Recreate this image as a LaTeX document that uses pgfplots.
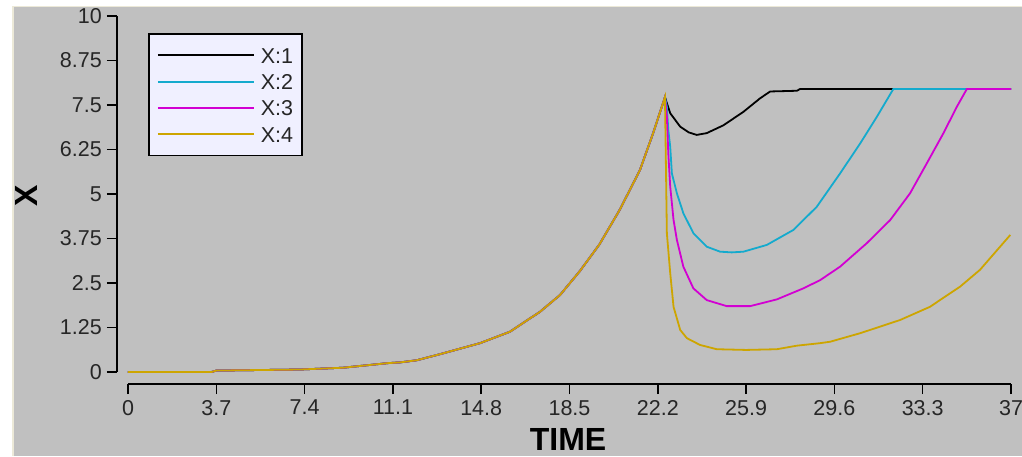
\documentclass[border=0pt]{standalone}
\usepackage{fontspec}
\setmainfont{Liberation Sans}
\usepackage{pgfplots}
\pgfplotsset{compat=1.18}
\definecolor{bggray}{RGB}{192,192,192}
\definecolor{beige}{RGB}{236,233,216}
\definecolor{legbg}{RGB}{240,240,255}
\definecolor{ccyan}{RGB}{20,170,205}
\definecolor{cmag}{RGB}{210,0,210}
\definecolor{cgold}{RGB}{205,165,0}
\newcommand{\tickfont}{\fontsize{21.5}{24}\selectfont}
\newcommand{\labfont}{\fontsize{32}{36}\selectfont\bfseries}
\begin{document}
\begin{tikzpicture}
\useasboundingbox (0,0) rectangle (1022pt,456pt);
\fill[white] (0,0) rectangle (1022pt,456pt);
\fill[bggray] (12pt,0) rectangle (1022pt,450pt);
\draw[beige, line width=1.5pt] (12.75pt,0) -- (12.75pt,449.25pt) -- (1022pt,449.25pt);
\begin{axis}[
  at={(117pt,72pt)}, anchor=south west,
  scale only axis, width=894pt, height=368pt,
  xmin=-0.46, xmax=37, ymin=-0.337, ymax=10,
  clip=false,
  axis line style={draw=none},
  tick style={black, line width=1.5pt},
  major tick length=10pt,
  tick align=outside,
  xtick pos=bottom, ytick pos=left,
  xtick={0,3.7,7.4,11.1,14.8,18.5,22.2,25.9,29.6,33.3,37},
  xticklabels={0,3.7,7.4,11.1,14.8,18.5,22.2,25.9,29.6,33.3,37},
  ytick={0,1.25,2.5,3.75,5,6.25,7.5,8.75,10},
  yticklabels={0,1.25,2.5,3.75,5,6.25,7.5,8.75,10},
  /pgf/number format/assume math mode=true,
  ticklabel style={font=\tickfont, text=black!85},
  xticklabel style={inner sep=0pt, yshift=-6pt},
  yticklabel style={inner sep=0pt, xshift=-5pt},
  xlabel={TIME}, ylabel={X},
  xlabel style={font=\labfont, at={(axis description cs:0.5045,-0.152)}, anchor=center},
  ylabel style={font=\labfont, at={(axis description cs:-0.1007,0.511)}, anchor=center, rotate=0},
  legend style={at={(axis description cs:0.0347,0.9538)}, anchor=north west,
    fill=legbg, draw=black, line width=1.5pt, font=\tickfont,
    inner xsep=8pt, inner ysep=12.5pt, /tikz/row sep=8.3pt, /tikz/column sep=5pt,
    nodes={inner sep=1pt, text height=16pt, text depth=0pt, text=black!85}},
  legend cell align=left,
  legend image code/.code={\draw[#1, line width=2pt] (0pt,0pt) -- (96pt,0pt);},
  every axis plot/.append style={line width=1.8pt},
]
\draw[black, line width=1.5pt] (axis cs:-0.46,0) -- (axis cs:-0.46,10);
\draw[black, line width=1.5pt] (axis cs:0,-0.337) -- (axis cs:37,-0.337);
\addplot[black] coordinates {
(0,0) (3.5,0) (3.7,0.04) (7.2,0.07) (9.0,0.12) (10.9,0.25) (11.4,0.27) (12.1,0.33)
(13.07,0.5) (14.75,0.81) (16.0,1.13) (17.26,1.69) (18.1,2.16) (18.94,2.84) (19.75,3.58)
(20.6,4.55) (21.45,5.67) (22.0,6.7) (22.5,7.72)
(22.72,7.27) (23.14,6.89) (23.5,6.73) (23.83,6.66) (24.25,6.71) (24.95,6.93) (25.79,7.31)
(26.49,7.69) (26.91,7.88) (28.03,7.90) (28.16,7.95) (37,7.95)};
\addlegendentry{X:1}
\addplot[ccyan] coordinates {
(0,0) (3.5,0) (3.7,0.04) (7.2,0.07) (9.0,0.12) (10.9,0.25) (11.4,0.27) (12.1,0.33)
(13.07,0.5) (14.75,0.81) (16.0,1.13) (17.26,1.69) (18.1,2.16) (18.94,2.84) (19.75,3.58)
(20.6,4.55) (21.45,5.67) (22.0,6.7) (22.5,7.72)
(22.58,7.45) (22.64,6.80) (22.72,6.33) (22.79,5.58) (23.0,5.02) (23.27,4.46) (23.69,3.90)
(24.25,3.52) (24.81,3.38) (25.3,3.36) (25.79,3.38) (26.77,3.57) (27.88,3.99) (28.86,4.64)
(29.84,5.58) (30.68,6.42) (31.38,7.17) (32.07,7.95) (37,7.95)};
\addlegendentry{X:2}
\addplot[cmag] coordinates {
(0,0) (3.5,0) (3.7,0.04) (7.2,0.07) (9.0,0.12) (10.9,0.25) (11.4,0.27) (12.1,0.33)
(13.07,0.5) (14.75,0.81) (16.0,1.13) (17.26,1.69) (18.1,2.16) (18.94,2.84) (19.75,3.58)
(20.6,4.55) (21.45,5.67) (22.0,6.7) (22.5,7.72)
(22.58,7.17) (22.64,6.14) (22.72,5.21) (22.86,4.27) (23.0,3.71) (23.27,2.96) (23.69,2.35)
(24.25,2.02) (25.09,1.85) (26.07,1.85) (27.19,2.04) (28.30,2.35) (29.0,2.58) (29.84,2.96)
(30.96,3.62) (31.94,4.27) (32.77,5.02) (33.47,5.86) (34.17,6.71) (34.73,7.45) (35.15,7.95) (37,7.95)};
\addlegendentry{X:3}
\addplot[cgold] coordinates {
(0,0) (3.5,0) (3.7,0.04) (7.2,0.07) (9.0,0.12) (10.9,0.25) (11.4,0.27) (12.1,0.33)
(13.07,0.5) (14.75,0.81) (16.0,1.13) (17.26,1.69) (18.1,2.16) (18.94,2.84) (19.75,3.58)
(20.6,4.55) (21.45,5.67) (22.0,6.7) (22.5,7.72)
(22.58,3.9) (22.72,2.78) (22.86,1.83) (23.14,1.18) (23.42,0.95) (23.97,0.76) (24.67,0.64)
(25.9,0.62) (27.19,0.64) (28.03,0.74) (29.0,0.81) (29.42,0.85) (30.68,1.09) (32.35,1.46)
(33.6,1.83) (34.87,2.40) (35.7,2.87) (36.97,3.85)};
\addlegendentry{X:4}
\end{axis}
\end{tikzpicture}
\end{document}
